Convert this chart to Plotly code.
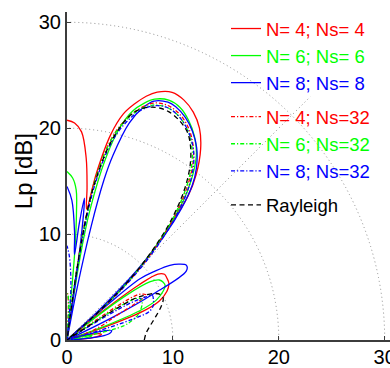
import numpy as np
import plotly.graph_objects as go

# Directivity patterns: polar angle (deg) and level Lp (dB, clipped at 0)
THETA_N4_NS4 = [0, 2, 4, 7, 9, 11, 13, 15, 17, 19, 21, 23, 26, 29, 32, 34, 36, 37.5, 39, 40.5,
                42, 44, 46, 48, 50, 52, 55, 58, 61, 64, 67, 70, 72, 74, 76, 78, 80, 81.5, 82.5,
                84, 86, 88, 90]
LP_N4_NS4 = [0, 0, 1.8, 3.0, 3.3, 3.1, 2.2, 0, 0, 4.0, 8.0, 9.5, 10.5, 11.0, 11.1, 11.1, 10.6, 8.5, 4.0, 0,
             3.5, 8.0, 11.5, 14.5, 17.8, 19.8, 22.0, 23.6, 24.6, 25.2, 25.4, 24.9, 24.2, 23.2, 22.0, 19.8,
             16.0, 12.5, 14.5, 17.3, 19.7, 20.5, 20.75]

THETA_N6_NS6 = [0, 3, 5, 8, 10, 12, 14, 16, 18, 20, 22, 24, 27, 29, 31, 33, 35, 37, 39, 40.5,
                42, 44, 46, 48, 50, 52, 55, 58, 61, 64, 67, 70, 72, 74, 76, 78, 80, 81, 82,
                84, 85, 85.8, 86.5, 88, 90]
LP_N6_NS6 = [0, 0, 1.2, 2.2, 2.4, 2.0, 0.5, 0, 0, 3.5, 7.5, 9.2, 10.2, 10.6, 10.6, 10.4, 9.6, 7.0, 2.0, 0,
             3.5, 8.0, 11.5, 14.3, 17.0, 19.0, 21.3, 22.7, 23.7, 24.4, 24.6, 24.2, 23.5, 22.5, 20.7, 17.5,
             12.4, 8.0, 0, 0, 8.5, 12.3, 14.2, 15.3, 15.9]

THETA_N8_NS8 = [0, 2, 4, 6, 9, 12, 14, 16, 17.5, 25, 26.5, 28, 30, 32, 34, 36, 38, 40, 41, 42,
                43, 45, 47, 49, 51, 53, 56, 59, 62, 65, 67, 70, 72, 74, 76, 77, 78, 79, 80, 81,
                82, 83, 84, 85, 86, 88, 90]
LP_N8_NS8 = [0, 0, 1.5, 3.2, 4.1, 4.3, 3.5, 1.5, 0, 0, 5.0, 9.0, 13.0, 13.3, 12.8, 12.0, 10.6, 9.0, 5.0, 0,
             4.0, 9.5, 13.5, 16.5, 18.8, 20.3, 21.9, 23.0, 23.8, 24.3, 24.4, 24.0, 23.0, 21.3, 18.0, 15.5,
             11.0, 5.0, 0, 0, 9.0, 13.5, 11.0, 8.1, 10.2, 13.2, 14.5]

THETA_N4_NS32 = [0, 14, 17, 20, 23, 26, 28, 29.5, 31, 32.5, 33.5, 34.5, 35.5, 39, 41, 43, 45, 47, 49,
                 52, 55, 58, 61, 64, 67, 70, 73, 76, 78, 80, 81, 82, 83, 86, 87.5, 89, 90]
LP_N4_NS32 = [0, 0, 1.2, 2.5, 3.8, 5.0, 7.2, 8.6, 8.4, 8.0, 7.0, 3.5, 0, 0, 3.0, 7.0, 10.5, 13.0, 15.5,
              18.5, 20.8, 22.3, 23.3, 23.9, 24.1, 23.8, 22.7, 20.9, 18.9, 15.5, 12.5, 8.0, 0, 0, 3.0, 4.3, 4.5]

THETA_N6_NS32 = [0, 10, 12, 14, 17, 20, 23, 26, 29, 31, 32.5, 33.5, 39, 41, 43, 45, 47, 49,
                 52, 55, 58, 61, 64, 67, 70, 73, 76, 78, 80, 81, 82, 83, 86, 87.5, 89, 90]
LP_N6_NS32 = [0, 0, 2.5, 5.5, 6.5, 7.2, 7.6, 7.9, 8.0, 7.6, 6.0, 0, 0, 3.0, 7.0, 10.0, 12.8, 15.3,
              18.3, 20.6, 22.1, 23.1, 23.7, 23.9, 23.6, 22.6, 20.8, 18.8, 15.3, 12.0, 7.0, 0, 0, 3.5, 4.3, 4.4]

THETA_N8_NS32 = [0, 15, 16.5, 18, 19, 22, 25, 27.5, 28.5, 29.5, 30.5, 31.5, 32.5, 39, 41, 43, 45, 47, 49,
                 52, 55, 58, 61, 64, 67, 70, 73, 76, 78, 80, 81, 82, 83, 84.5, 85.5, 87, 88.5, 90]
LP_N8_NS32 = [0, 0, 4.0, 7.2, 8.2, 8.8, 9.0, 9.1, 8.6, 7.8, 6.5, 3.5, 0, 0, 3.0, 7.5, 10.8, 13.5, 16.0,
              18.9, 20.9, 22.2, 23.1, 23.7, 23.9, 23.5, 22.4, 20.4, 18.2, 14.5, 11.0, 6.0, 0, 0, 4.5, 6.5, 8.0, 8.9]

THETA_RAYLEIGH = [0, 5, 10, 15, 20, 23.5, 26, 28, 30, 31.5, 32.5, 33.5, 39, 41, 43, 45, 47, 49, 52, 55,
                  57.7, 60, 63, 66, 68, 70, 72, 74, 76, 78, 80, 81, 82, 83, 90]
LP_RAYLEIGH = [7.3, 7.5, 8.0, 8.7, 9.5, 9.9, 9.8, 9.35, 8.4, 7.5, 5.0, 0, 0, 2.5, 6.5, 9.8, 12.5, 15.0, 18.0, 20.3,
               21.8, 22.7, 23.3, 23.6, 23.6, 23.4, 23.0, 22.2, 20.7, 18.5, 15.0, 12.5, 7.0, 0, 0]

LABELS = ["N= 4; Ns= 4", "N= 6; Ns= 6", "N= 8; Ns= 8",
          "N= 4; Ns=32", "N= 6; Ns=32", "N= 8; Ns=32", "Rayleigh"]

GRID_RADII = [10, 20, 30]
SPOKE_ANGLE = 45
SPOKE_LENGTH = 32.5
TICKS = [0, 10, 20, 30]

FONT = "Liberation Sans, Arial, Helvetica, sans-serif"
DASHDOT = "4px,2px,1.2px,2px"
DASHED = "5px,3.5px"

series = [
    (THETA_N4_NS4, LP_N4_NS4, "#ff0000", "solid", "a"),
    (THETA_N6_NS6, LP_N6_NS6, "#00ff00", "solid", "a"),
    (THETA_N8_NS8, LP_N8_NS8, "#0000ff", "solid", "a"),
    (THETA_N4_NS32, LP_N4_NS32, "#ff0000", DASHDOT, "b"),
    (THETA_N6_NS32, LP_N6_NS32, "#00ff00", DASHDOT, "b"),
    (THETA_N8_NS32, LP_N8_NS32, "#0000ff", DASHDOT, "b"),
    (THETA_RAYLEIGH, LP_RAYLEIGH, "#000000", DASHED, "c"),
]


def polar_to_xy(theta_deg, lp):
    t = np.radians(np.asarray(theta_deg, dtype=float))
    r = np.asarray(lp, dtype=float)
    return r * np.cos(t), r * np.sin(t)


fig = go.Figure()

for (theta, lp, color, dash, group), label in zip(series, LABELS):
    x, y = polar_to_xy(theta, lp)
    name = label if color == "#000000" else f'<span style="color:{color}">{label}</span>'
    fig.add_trace(go.Scatter(
        x=x, y=y, mode="lines", name=name, legendgroup=group,
        line=dict(color=color, width=1.3, dash=dash, shape="spline", smoothing=1.0),
        hoverinfo="skip",
    ))

# dotted polar grid: quarter circles and the 45 degree spoke
shapes = []
for rad in GRID_RADII:
    shapes.append(dict(type="circle", xref="x", yref="y", x0=-rad, y0=-rad, x1=rad, y1=rad,
                       line=dict(color="#8c8c8c", width=1, dash="1px,3px"), layer="below"))
sx, sy = polar_to_xy([SPOKE_ANGLE], [SPOKE_LENGTH])
shapes.append(dict(type="line", xref="x", yref="y", x0=0, y0=0, x1=float(sx[0]), y1=float(sy[0]),
                   line=dict(color="#8c8c8c", width=1, dash="1px,3px"), layer="below"))

axis_common = dict(
    showgrid=False, zeroline=False, showline=True, linecolor="#3c3c3c", linewidth=2,
    ticks="inside", ticklen=4, tickwidth=1, tickcolor="#3c3c3c",
    tickvals=TICKS, ticktext=[str(t) for t in TICKS],
    tickfont=dict(family=FONT, size=20, color="#000000"),
    ticklabeloverflow="allow",
)

fig.update_layout(
    width=390, height=368,
    margin=dict(l=67, r=0, t=12, b=28, autoexpand=False),
    paper_bgcolor="white", plot_bgcolor="white",
    shapes=shapes,
    xaxis=dict(range=[0, 30.5], ticklabelstandoff=-2, **axis_common),
    yaxis=dict(range=[0, 30.97], **axis_common),
    # vertical axis label
    annotations=[dict(
        text="Lp [dB]", textangle=-90, showarrow=False,
        xref="paper", yref="paper", x=-0.136, y=0.515, xanchor="center", yanchor="middle",
        font=dict(family=FONT, size=24, color="#000000"),
    )],
    legend=dict(
        xref="container", yref="container", x=226 / 390, y=1 - 10 / 368,
        xanchor="left", yanchor="top",
        bgcolor="rgba(0,0,0,0)", borderwidth=0,
        font=dict(family=FONT, size=18.5, color="#000000"),
        tracegroupgap=7, traceorder="grouped",
        maxheight=368,
    ),
    showlegend=True,
)

fig.write_html("out.html")
